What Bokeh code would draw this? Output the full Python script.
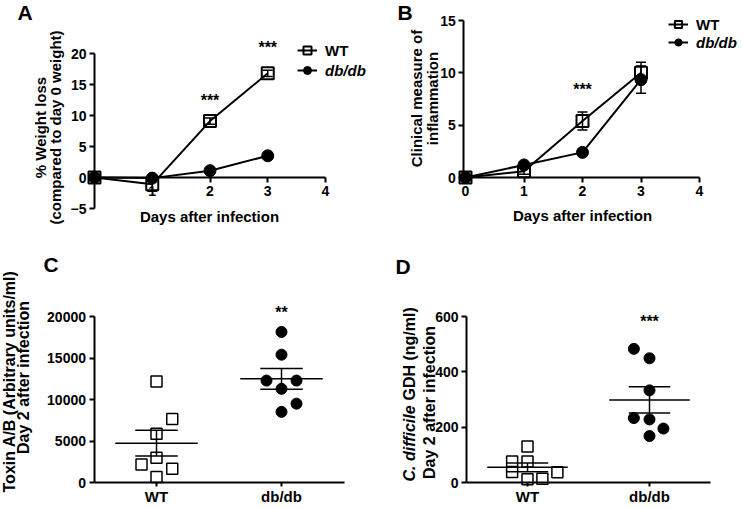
import numpy as np
from bokeh.plotting import figure
from bokeh.layouts import row, column
from bokeh.models import (Range1d, FixedTicker, Label, Legend, LegendItem, Whisker,
                          ColumnDataSource, TeeHead)
from bokeh.embed import file_html
from bokeh.resources import INLINE

FONT = "Liberation Sans"

# ---------------- data ----------------
days = [0, 1, 2, 3]
# A: % weight loss
a_wt = [0.0, -1.1, 9.1, 16.8]
a_wt_sem = [0.0, 1.1, 0.5, 0.5]
a_db = [0.0, -0.1, 1.1, 3.5]
a_db_sem = [0.0, 0.3, 0.3, 0.4]
# B: clinical inflammation score
b_wt = [0.0, 0.6, 5.4, 10.0]
b_wt_sem = [0.0, 0.3, 0.85, 1.0]
b_db = [0.0, 1.2, 2.4, 9.35]
b_db_sem = [0.0, 0.2, 0.2, 1.3]
# C: toxin A/B (arbitrary units/ml)
groups = ["WT", "db/db"]
c_wt = [12160, 7640, 5860, 2970, 2180, 1660, 670]
c_db = [18140, 15400, 12280, 12280, 11290, 9500, 8510]
# D: GDH (ng/ml)
d_wt = [130, 76, 76, 38, 12, 14, 37]
d_db = [483, 449, 333, 233, 228, 195, 168]
# significance marks (x, level, text)
a_stars = [(2, 12.4, "***"), (3, 21.0, "***")]
b_stars = [(2, 8.4, "***")]
c_stars = [(2, 20490, "**")]
d_stars = [(2, 582, "***")]

# horizontal spread of overlapping points (layout only)
c_wt_dx = [0, 0.126, 0, 0, -0.12, 0.126, 0]
c_db_dx = [0, 0, -0.12, 0.12, 0, 0.12, 0]
d_wt_dx = [0, -0.126, 0, -0.126, 0, 0.122, 0.245]
d_db_dx = [-0.128, 0, 0, -0.128, 0, 0.114, 0]


def make_fig(ox, oy, w, h, xcal, ycal):
    (xv0, xp0), (xv1, xp1) = xcal
    kx = (xp1 - xp0) / (xv1 - xv0)
    (yv0, yp0), (yv1, yp1) = ycal
    ky = (yp0 - yp1) / (yv1 - yv0)
    xr = (xv0 - (xp0 - ox) / kx, xv0 + (ox + w - xp0) / kx)
    yr = (yv0 - (oy + h - yp0) / ky, yv0 + (yp0 - oy) / ky)
    p = figure(width=w, height=h, output_backend="svg", toolbar_location=None, title=None,
               x_range=Range1d(*xr), y_range=Range1d(*yr),
               min_border_left=0, min_border_right=0, min_border_top=0, min_border_bottom=0)
    p.xgrid.visible = False
    p.ygrid.visible = False
    p.outline_line_color = None
    p.background_fill_color = "white"
    p.border_fill_color = "white"
    for ax in p.axis:
        ax.axis_line_width = 2
        ax.axis_line_color = "black"
        ax.major_tick_line_width = 2
        ax.major_tick_line_color = "black"
        ax.major_tick_out = 5
        ax.major_tick_in = 0
        ax.minor_tick_line_color = None
        ax.major_label_text_font = FONT
        ax.major_label_text_font_size = "14px"
        ax.major_label_text_font_style = "bold"
        ax.major_label_text_color = "black"
        ax.major_label_standoff = 3
    fx = lambda px: xv0 + (px - xp0) / kx
    fy = lambda py: yv0 + (yp0 - py) / ky
    p._geo = (ox, oy, w, h)
    return p, fx, fy


def txt(p, x, y, text, size, style="bold", align="center", baseline="middle", angle=0.0):
    p.add_layout(Label(x=x, y=y, text=text, text_font=FONT, text_font_size=f"{size}px",
                       text_font_style=style, text_align=align, text_baseline=baseline,
                       angle=angle, text_color="black"))


def stars(p, items):
    for x, y, t in items:
        txt(p, x, y, t, 16)


def legend(p, label, renderers, left_px, bottom_px, italic, gh):
    ox, oy, w, h = p._geo
    lg = Legend(items=[LegendItem(label=label, renderers=renderers)],
                location=(left_px - ox, oy + h - bottom_px),
                orientation="vertical", glyph_width=20, glyph_height=gh, label_height=gh,
                label_standoff=8, padding=0, margin=0, spacing=0,
                border_line_color=None, background_fill_alpha=0,
                label_text_font=FONT, label_text_font_size="15px",
                label_text_font_style="bold italic" if italic else "bold",
                label_text_color="black")
    p.add_layout(lg, "center")


def whisk(p, xs, ys, es):
    src = ColumnDataSource(dict(x=xs, u=[y + e for y, e in zip(ys, es)],
                                l=[y - e for y, e in zip(ys, es)]))
    p.add_layout(Whisker(source=src, base="x", upper="u", lower="l",
                         line_width=1.5, line_color="black",
                         upper_head=TeeHead(size=10, line_width=1.5, line_color="black"),
                         lower_head=TeeHead(size=10, line_width=1.5, line_color="black")))


def line_panel(p, ys_wt, sem_wt, ys_db, sem_db):
    whisk(p, days, ys_wt, sem_wt)
    whisk(p, days, ys_db, sem_db)
    l1 = p.line(days, ys_wt, line_width=2, line_color="black")
    s1 = p.scatter(days, ys_wt, marker="square", size=12, fill_color=None,
                   line_color="black", line_width=2)
    l2 = p.line(days, ys_db, line_width=2, line_color="black")
    s2 = p.scatter(days, ys_db, marker="circle", size=12, fill_color="black",
                   line_color="black")
    return [l1, s1], [l2, s2]


def set_axes(p, xloc, yloc, xb, yb, xt, yt):
    p.xaxis.fixed_location = xloc
    p.yaxis.fixed_location = yloc
    p.xaxis.bounds = xb
    p.yaxis.bounds = yb
    p.xaxis.ticker = FixedTicker(ticks=xt)
    p.yaxis.ticker = FixedTicker(ticks=yt)


# ---------------- Panel A ----------------
pA, fxA, fyA = make_fig(0, 0, 370, 240, ((0, 94), (4, 325)), ((-5, 208), (20, 53)))
set_axes(pA, 0, 0, (0, 4), (-5, 20), [1, 2, 3, 4], [-5, 0, 5, 10, 15, 20])
wtA, dbA = line_panel(pA, a_wt, a_wt_sem, a_db, a_db_sem)
stars(pA, a_stars)
txt(pA, fxA(17), fyA(0), "A", 21, align="left", baseline="top")
txt(pA, fxA(40), fyA(127), "% Weight loss", 15, angle=np.pi / 2)
txt(pA, fxA(55), fyA(127), "(compared to day 0 weight)", 15, angle=np.pi / 2)
txt(pA, fxA(209), fyA(216), "Days after infection", 15)
legend(pA, "WT", wtA, 297, 60, False, 20)
legend(pA, "db/db", dbA, 297, 80, True, 20)

# ---------------- Panel B ----------------
pB, fxB, fyB = make_fig(370, 0, 370, 240, ((0, 465), (4, 699)), ((0, 177), (15, 20)))
set_axes(pB, 0, -0.03, (-0.03, 4), (0, 15), [0, 1, 2, 3, 4], [0, 5, 10, 15])
wtB, dbB = line_panel(pB, b_wt, b_wt_sem, b_db, b_db_sem)
stars(pB, b_stars)
txt(pB, fxB(397), fyB(0), "B", 21, align="left", baseline="top")
txt(pB, fxB(416), fyB(98), "Clinical measure of", 15, angle=np.pi / 2)
txt(pB, fxB(432), fyB(98), "inflammation", 15, angle=np.pi / 2)
txt(pB, fxB(582), fyB(215), "Days after infection", 15)
legend(pB, "WT", wtB, 668, 33, False, 18)
legend(pB, "db/db", dbB, 668, 51, True, 18)


# ---------------- dot plots ----------------
def dot_panel(p, wt, wt_dx, db, db_dx, size):
    p.scatter([1 + d for d in wt_dx], wt, marker="square", size=size, fill_color=None,
              line_color="black", line_width=1.5)
    p.scatter([2 + d for d in db_dx], db, marker="circle", size=size, fill_color="black",
              line_color="black")
    means, sems = [], []
    for vals in (wt, db):
        a = np.asarray(vals, dtype=float)
        means.append(a.mean())
        sems.append(a.std(ddof=1) / np.sqrt(len(a)))
    xs = [1, 2]
    p.segment(x0=[x - 0.33 for x in xs], x1=[x + 0.33 for x in xs], y0=means, y1=means,
              line_width=1.5, line_color="black")
    for sgn in (1, -1):
        ys = [m + sgn * s for m, s in zip(means, sems)]
        p.segment(x0=[x - 0.17 for x in xs], x1=[x + 0.17 for x in xs], y0=ys, y1=ys,
                  line_width=1.5, line_color="black")
    p.segment(x0=xs, x1=xs, y0=[m - s for m, s in zip(means, sems)],
              y1=[m + s for m, s in zip(means, sems)], line_width=1.5, line_color="black")
    p.xaxis.major_label_overrides = {1: groups[0], 2: groups[1]}
    p.xaxis.major_label_text_font_size = "15px"
    p.xaxis.major_tick_out = 4
    p.xaxis.major_label_standoff = 1


pC, fxC, fyC = make_fig(0, 240, 370, 268, ((1, 156), (2, 281)), ((0, 482), (20000, 316)))
set_axes(pC, 0, 0.5, (0.5, 2.5), (0, 20000), [1, 2], [0, 5000, 10000, 15000, 20000])
dot_panel(pC, c_wt, c_wt_dx, c_db, c_db_dx, 11)
stars(pC, c_stars)
txt(pC, fxC(43), fyC(252), "C", 21, align="left", baseline="top")
txt(pC, fxC(8.5), fyC(381), "Toxin A/B (Arbitrary units/ml)", 16, angle=np.pi / 2)
txt(pC, fxC(23), fyC(377), "Day 2 after infection", 16, angle=np.pi / 2)

pD, fxD, fyD = make_fig(370, 240, 370, 268, ((1, 527), (2, 649)), ((0, 482), (600, 316)))
set_axes(pD, 0, 0.5, (0.5, 2.5), (0, 600), [1, 2], [0, 200, 400, 600])
dot_panel(pD, d_wt, d_wt_dx, d_db, d_db_dx, 11)
stars(pD, d_stars)
txt(pD, fxD(395), fyD(254), "D", 21, align="left", baseline="top")
txt(pD, fxD(409), fyD(481), "C. difficile", 16, style="bold italic", align="left",
    angle=np.pi / 2)
txt(pD, fxD(409), fyD(400), "GDH (ng/ml)", 16, align="left", angle=np.pi / 2)
txt(pD, fxD(428.5), fyD(402), "Day 2 after infection", 16, angle=np.pi / 2)

layout = column(row(pA, pB), row(pC, pD))
open("out.html", "w").write(file_html(layout, INLINE))
